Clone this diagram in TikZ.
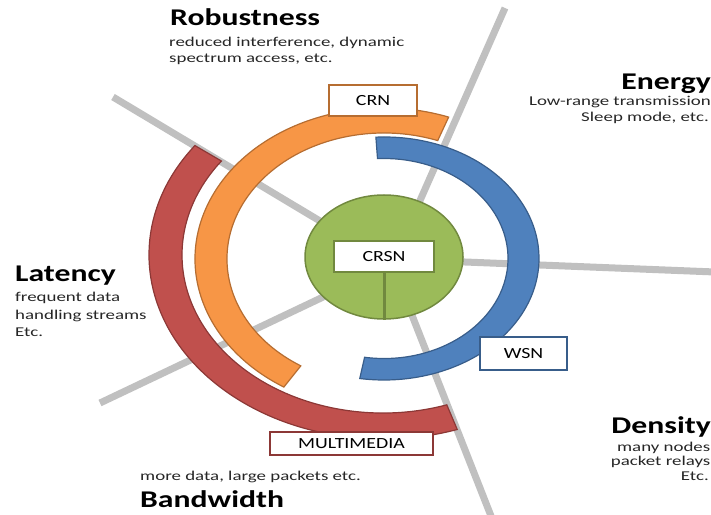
\documentclass[tikz,border=0pt]{standalone}
\usepackage{fontspec}
\setmainfont{Carlito}[FakeStretch=1.28]
\newfontfamily\descfont{Carlito}[FakeStretch=1.4]
\newfontfamily\titlefont{Carlito}[FakeStretch=1.32]
\usetikzlibrary{calc,shapes.geometric}
\definecolor{cOrange}{HTML}{F79646}
\definecolor{cOrangeD}{HTML}{B66D31}
\definecolor{cBlue}{HTML}{4F81BD}
\definecolor{cBlueD}{HTML}{385D8A}
\definecolor{cRed}{HTML}{C0504D}
\definecolor{cRedD}{HTML}{8C3836}
\definecolor{cGreen}{HTML}{9BBB59}
\definecolor{cGreenD}{HTML}{71893F}
\definecolor{cGray}{HTML}{C0C0C0}
\definecolor{cText}{HTML}{262626}
\begin{document}
\begin{tikzpicture}[x=1pt,y=1pt,
  spoke/.style={cGray, line width=7pt},
  band/.style={line width=1.2pt},
  lbox/.style={draw, fill=white, line width=2pt, inner sep=0pt, font=\fontsize{15.5}{18}\selectfont},
  title/.style={font=\titlefont\fontsize{24}{28}\selectfont\bfseries, inner sep=0pt},
  desc/.style={font=\descfont\fontsize{13.5}{16}\selectfont, text=cText, inner sep=0pt}]
\useasboundingbox (0,0) rectangle (711,514);

% spokes
\coordinate (s1o) at (113,417); \coordinate (s1i) at (340,281);
\coordinate (s2o) at (100,111); \coordinate (s2i) at (340,225);
\coordinate (s3o) at (715,242); \coordinate (s3i) at (440,253);
\coordinate (s4o) at (505,506); \coordinate (s4i) at (407,284);
\coordinate (s5o) at (491,-2);  \coordinate (s5i) at (406,214);
\draw[spoke] (s1o) -- (s1i);
\draw[spoke] (s2o) -- (s2i);
\draw[spoke] (s3o) -- (s3i);
\draw[spoke] (s4o) -- (s4i);
\draw[spoke] (s5o) -- (s5i);

% bands
\coordinate (R) at (383,259);
\coordinate (O) at (384,255);
\coordinate (B) at (384,255.5);
\filldraw[band, fill=cRed, draw=cRedD]
  ($(R)+(143.5:234pt and 184pt)$) arc[start angle=143.5, end angle=288.5, x radius=234pt, y radius=184pt]
  -- ($(R)+(288.5:201pt and 158pt)$) arc[start angle=288.5, end angle=143.5, x radius=201pt, y radius=158pt] -- cycle;
\filldraw[band, fill=cOrange, draw=cOrangeD]
  ($(O)+(70:189pt and 151pt)$) arc[start angle=70, end angle=238, x radius=189pt, y radius=151pt]
  -- ($(O)+(238:157pt and 126pt)$) arc[start angle=238, end angle=70, x radius=157pt, y radius=126pt] -- cycle;
\filldraw[band, fill=cBlue, draw=cBlueD]
  ($(B)+(93:155pt and 121.5pt)$) arc[start angle=93, end angle=-99, x radius=155pt, y radius=121.5pt]
  -- ($(B)+(-99:124pt and 100pt)$) arc[start angle=-99, end angle=93, x radius=124pt, y radius=100pt] -- cycle;

% centre
\node[ellipse, draw=cGreenD, fill=cGreen, line width=1.5pt, minimum width=158pt, minimum height=124pt, inner sep=0pt] (green) at (384,257) {};
\node[lbox, draw=cGreenD, minimum width=100pt, minimum height=31pt] (crsn) at (384,257.5) {CRSN};
\draw[cGreenD, line width=3pt] (crsn.south) -- (green.south);

% labels on bands
\node[lbox, draw=cOrangeD, minimum width=88pt, minimum height=31pt] (crn) at (373,413.5) {CRN};
\node[lbox, draw=cBlueD, minimum width=87pt, minimum height=33pt] (wsn) at (523.5,160.5) {WSN};
\node[lbox, draw=cRedD, minimum width=163pt, minimum height=23pt] (mm) at (351.5,70.5) {MULTIMEDIA};

% texts
\node[title, anchor=base west] (rob) at (170,488) {Robustness};
\node[desc, anchor=base west] (rob1) at (169,467) {reduced interference, dynamic};
\node[desc, anchor=base west] (rob2) at (169,451) {spectrum access, etc.};

\node[title, anchor=base east] (ene) at (711,424) {Energy};
\node[desc, anchor=base east] (ene1) at (711,408) {Low-range transmission};
\node[desc, anchor=base east] (ene2) at (709,392) {Sleep mode, etc.};

\node[title, anchor=base west] (lat) at (15,232) {Latency};
\node[desc, anchor=base west] (lat1) at (15,212) {frequent data};
\node[desc, anchor=base west] (lat2) at (15,194) {handling streams};
\node[desc, anchor=base west] (lat3) at (15,177) {Etc.};

\node[desc, anchor=base west] (bw1) at (140,34) {more data, large packets etc.};
\node[title, anchor=base west] (bw) at (140,7) {Bandwidth};

\node[title, anchor=base east] (den) at (711,81) {Density};
\node[desc, anchor=base east] (den1) at (710.5,63) {many nodes};
\node[desc, anchor=base east] (den2) at (710.5,49) {packet relays};
\node[desc, anchor=base east] (den3) at (709,34) {Etc.};
\end{tikzpicture}
\end{document}
